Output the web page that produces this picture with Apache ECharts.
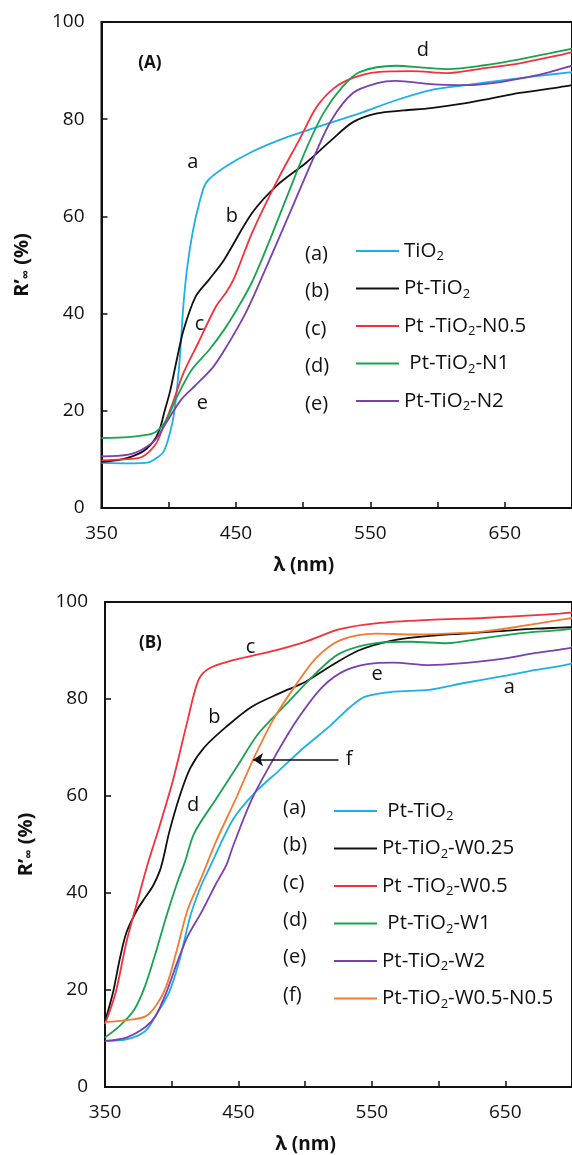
<!DOCTYPE html>
<html>
<head>
<meta charset="utf-8">
<script src="https://cdn.jsdelivr.net/npm/echarts@6/dist/echarts.min.js"></script>
<style>
  html, body { margin: 0; padding: 0; background: #fff; }
  #chart { width: 572px; height: 1155px; }
</style>
</head>
<body>
<div id="chart"></div>
<script>
// axis ticks
const xTickLabels = [350, 450, 550, 650];
const yTickLabels = [0, 20, 40, 60, 80, 100];

// panel A: [wavelength nm, R'inf %]
const namesA = ['TiO2', 'Pt-TiO2', 'Pt -TiO2-N0.5', ' Pt-TiO2-N1', 'Pt-TiO2-N2'];
const tagsA = ['(a)', '(b)', '(c)', '(d)', '(e)'];
const colorsA = ['#1cb0e6', '#111111', '#f5303a', '#17a34f', '#7a3fb0'];

const tio2 = [[350,9.3],[370,9.2],[385,9.4],[392,10.5],[396,11.5],[400,14.5],[404,19.5],[408,30],[411,42],[414,50],[418,57],[423,63],[428,67],[441,70],[462,73.3],[489,76.4],[515,78.8],[542,81.2],[569,83.9],[595,86],[621,87],[648,88],[675,88.9],[700,89.7]];
const ptTio2 = [[350,9.5],[365,10],[380,11.5],[388,13.5],[393,16],[397,20],[401,24],[406,30.5],[411,36.6],[420,43.5],[430,47],[441,51],[462,60.7],[481,66.5],[502,71],[521,75.7],[537,79.4],[555,81.2],[575,81.8],[595,82.3],[621,83.3],[640,84.3],[661,85.4],[691,86.6],[700,87]];
const ptN05 = [[350,9.8],[365,10],[380,10.5],[390,13],[395,16],[403,21.6],[411,27.8],[422,34],[435,41.4],[443,44.5],[449,47.5],[462,56.6],[481,67.5],[497,75.7],[510,82.5],[523,86.4],[537,88.5],[555,89.7],[581,89.9],[608,89.5],[635,90.5],[661,91.5],[691,93.2],[700,93.8]];
const ptN1 = [[350,14.4],[370,14.6],[380,14.9],[390,15.6],[398,18],[406,22.8],[417,28.4],[430,32.5],[441,36.6],[451,41],[462,46.5],[475,55],[489,64.8],[502,73.7],[515,81.2],[529,86.6],[542,89.7],[569,91],[590,90.6],[608,90.3],[635,91.1],[661,92.3],[691,94],[700,94.5]];
const ptN2 = [[350,10.6],[370,11],[380,12],[390,14],[398,17.5],[409,22.2],[419,25],[433,29],[443,33.2],[457,40],[467,46],[489,60],[507,71.6],[521,79.8],[537,85.4],[555,87.4],[569,87.9],[595,87.2],[621,87],[648,87.7],[675,89.1],[691,90.3],[700,91]];
const seriesA = [tio2, ptTio2, ptN05, ptN1, ptN2];
const notesA = [['(A)', 386, 91.6], ['d', 589, 94.2], ['a', 418, 71.2], ['b', 447, 60.1], ['c', 423, 37.9], ['e', 425, 21.6]];

// panel B
const namesB = [' Pt-TiO2', 'Pt-TiO2-W0.25', 'Pt -TiO2-W0.5', ' Pt-TiO2-W1', 'Pt-TiO2-W2', 'Pt-TiO2-W0.5-N0.5'];
const tagsB = ['(a)', '(b)', '(c)', '(d)', '(e)', '(f)'];
const colorsB = ['#1cb0e6', '#111111', '#f5303a', '#17a34f', '#7a3fb0', '#f57a30'];

const wPt = [[350,9.5],[366,9.8],[380,11.5],[388,14.7],[398,19.5],[406,26.3],[414,35.3],[422,41.5],[428,45],[446,55.2],[462,60.6],[481,65.4],[500,70.2],[518,74.3],[534,78.4],[545,80.5],[566,81.5],[593,81.9],[619,83.3],[646,84.6],[673,86],[691,86.8],[700,87.3]];
const w025 = [[350,13.5],[356,19.5],[361,26.3],[366,31.8],[374,36.5],[380,39],[386,41.5],[391,44.5],[394,47.5],[398,52.4],[406,60],[414,65.8],[425,70.2],[441,74.3],[460,78.4],[481,81.2],[500,83.5],[518,86.6],[540,90],[566,92.1],[593,93],[619,93.5],[646,94],[673,94.5],[691,94.7],[700,94.8]];
const w05 = [[350,13],[358,19.5],[366,29.8],[374,38],[382,46],[390,53],[401,63.3],[412,75.7],[420,83.9],[428,86.3],[446,88],[473,89.7],[500,91.8],[526,94.4],[553,95.6],[593,96.3],[633,96.7],[673,97.3],[691,97.6],[700,97.8]];
const w1 = [[350,10.2],[361,12.6],[372,16],[380,20.8],[388,27.7],[396,35.2],[404,42],[410,46.5],[417,52.4],[433,59.3],[449,66.1],[465,72.9],[486,79],[508,85.3],[526,89.4],[553,91.5],[579,91.8],[606,91.5],[633,92.5],[659,93.5],[691,94.2],[700,94.5]];
const w2 = [[350,9.5],[366,10.2],[380,12.3],[388,14.7],[396,19.5],[404,25.6],[412,31.1],[422,35.9],[433,41.8],[441,45.8],[446,49.7],[460,59.3],[476,67.5],[494,75.7],[513,82.5],[531,86],[553,87.4],[566,87.5],[593,87],[619,87.4],[646,88.2],[673,89.5],[691,90.2],[700,90.6]];
const w05n05 = [[350,13.4],[366,13.8],[380,14.5],[388,16.7],[396,20.8],[404,28.4],[412,36.6],[422,43],[433,50.5],[449,60],[461,67.5],[476,75.7],[492,82.5],[508,88.4],[526,92.1],[553,93.5],[579,93.3],[606,93.5],[633,93.9],[659,94.9],[691,96.3],[700,96.7]];
const seriesB = [wPt, w025, w05, w1, w2, w05n05];
const notesB = [['(B)', 384, 91.6], ['c', 459, 90.7], ['b', 432, 76.3], ['e', 554, 85], ['a', 653, 82.5], ['d', 416, 58], ['f', 533, 67.5]];
const arrowB = [[525, 67.5], [461, 67.5]];

const FONT = 'Open Sans';
const INK = '#111';
const chart = echarts.init(document.getElementById('chart'));

const subName = (name) => name.replace('TiO2', 'TiO{s|2}');

function xAxisFor(gridIndex) {
    return {
        gridIndex,
        type: 'value',
        min: 350,
        max: 700,
        interval: 50,
        name: '\u03bb (nm)',
        nameLocation: 'middle',
        nameGap: 48,
        nameTextStyle: { fontFamily: FONT, fontSize: 19, fontWeight: 'bold', color: INK, padding: [0, 66, 0, 0] },
        axisLine: { lineStyle: { color: INK, width: 2 } },
        axisTick: { inside: true, length: 6, lineStyle: { color: INK, width: 1.5 } },
        axisLabel: {
            margin: 16,
            fontFamily: FONT,
            fontSize: 19,
            color: INK,
            showMaxLabel: false,
            formatter: (v) => (xTickLabels.includes(v) ? String(v) : ''),
        },
        splitLine: { show: false },
    };
}

function yAxisFor(gridIndex) {
    return {
        gridIndex,
        type: 'value',
        min: 0,
        max: 100,
        interval: 20,
        name: 'R\u2019{s|\u221e} (%)',
        nameLocation: 'middle',
        nameGap: 69,
        nameRotate: 90,
        nameTextStyle: {
            fontFamily: FONT, fontSize: 20, fontWeight: 'bold', color: INK,
            rich: { s: { fontFamily: FONT, fontSize: 13, fontWeight: 'bold', color: INK, verticalAlign: 'bottom', lineHeight: 10 } },
        },
        axisLine: { lineStyle: { color: INK, width: 2 } },
        axisTick: { inside: true, length: 6, lineStyle: { color: INK, width: 1.5 } },
        axisLabel: {
            margin: 17,
            fontFamily: FONT,
            fontSize: 19,
            color: INK,
            formatter: (v) => (yTickLabels.includes(v) ? String(v) : ''),
        },
        splitLine: { show: false },
    };
}

function legendFor(names, left, top) {
    return {
        data: names,
        orient: 'vertical',
        left,
        top,
        icon: 'rect',
        itemWidth: 43,
        itemHeight: 2,
        itemGap: 13.5,
        selectedMode: false,
        formatter: subName,
        textStyle: {
            fontFamily: FONT,
            fontSize: 20.5,
            lineHeight: 24,
            color: INK,
            rich: { s: { fontFamily: FONT, fontSize: 13, color: INK, verticalAlign: 'bottom', lineHeight: 10 } },
        },
    };
}

function lineSeries(names, colors, datas, idx) {
    return datas.map((d, i) => ({
        name: names[i],
        type: 'line',
        xAxisIndex: idx,
        yAxisIndex: idx,
        data: d,
        smooth: 0.3,
        showSymbol: false,
        symbol: 'none',
        color: colors[i],
        lineStyle: { width: 1.8, color: colors[i] },
        z: 3,
    }));
}

function noteSeries(notes, idx, arrow) {
    const s = {
        type: 'scatter',
        xAxisIndex: idx,
        yAxisIndex: idx,
        silent: true,
        symbolSize: 0,
        itemStyle: { color: INK, opacity: 1 },
        data: notes.map((n) => ({ name: n[0], value: [n[1], n[2]] })),
        label: {
            show: true,
            position: 'inside',
            formatter: '{b}',
            fontFamily: FONT,
            fontSize: 20,
            color: INK,
            opacity: 1,
            textBorderWidth: 0,
        },
        z: 5,
    };
    // the panel tags "(A)" / "(B)" are bold and smaller
    s.data.forEach((d) => {
        if (d.name.startsWith('(')) d.label = { fontSize: 17, fontWeight: 'bold' };
    });
    if (arrow) {
        s.markLine = {
            silent: true,
            symbol: ['none', 'arrow'],
            symbolSize: 10,
            label: { show: false },
            lineStyle: { color: INK, width: 1.6, type: 'solid', opacity: 1 },
            data: [[{ coord: arrow[0] }, { coord: arrow[1] }]],
        };
    }
    return s;
}

function tagTexts(tags, left, firstRow, step) {
    return tags.map((t, i) => ({
        type: 'text',
        left,
        top: firstRow + i * step - 13,
        style: { text: t, fontFamily: FONT, fontSize: 20, fill: INK },
    }));
}

const option = {
    animation: false,
    grid: [
        { left: 101.5, top: 22, right: -10, height: 486, show: true, borderColor: INK, borderWidth: 2 },
        { left: 105, top: 602, right: -12.5, height: 486, show: true, borderColor: INK, borderWidth: 2 },
    ],
    xAxis: [xAxisFor(0), xAxisFor(1)],
    yAxis: [yAxisFor(0), yAxisFor(1)],
    legend: [legendFor(namesA, 351, 234), legendFor(namesB, 329, 794)],
    graphic: [
        ...tagTexts(tagsA, 305, 257, 37.5),
        ...tagTexts(tagsB, 283, 811, 37.4),
    ],
    series: [
        ...lineSeries(namesA, colorsA, seriesA, 0),
        ...lineSeries(namesB, colorsB, seriesB, 1),
        noteSeries(notesA, 0, null),
        noteSeries(notesB, 1, arrowB),
    ],
};

chart.setOption(option);
</script>
</body>
</html>
